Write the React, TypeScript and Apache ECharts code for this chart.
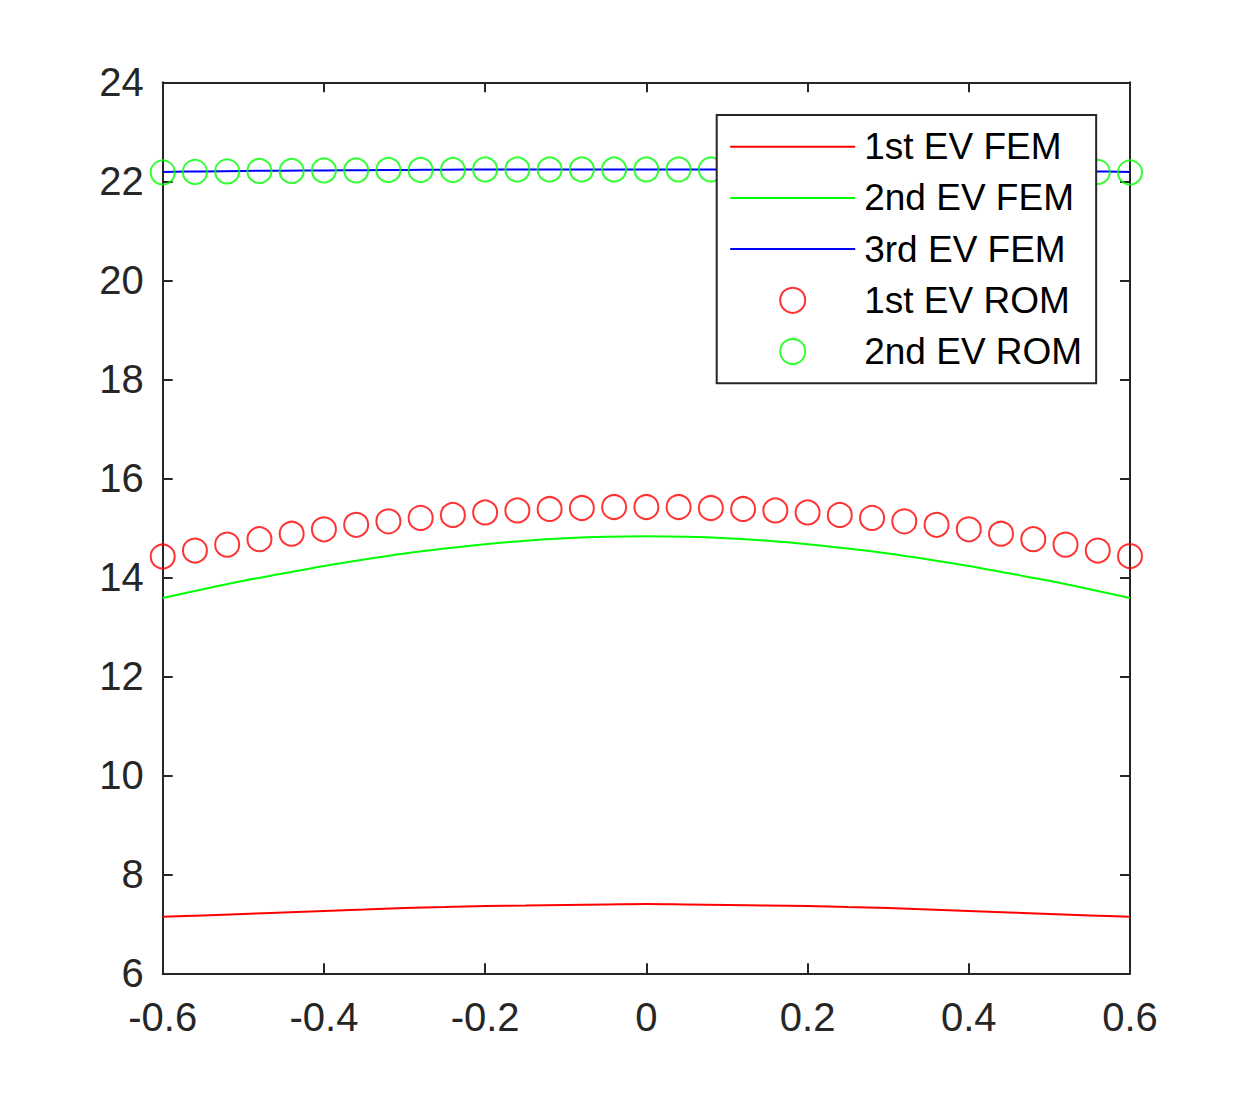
import React, { useEffect, useRef } from "react";
import * as echarts from "echarts";

const xFem = [
  -0.6, -0.55, -0.5, -0.45, -0.4, -0.35, -0.3, -0.25, -0.2, -0.15, -0.1, -0.05, 0,
  0.05, 0.1, 0.15, 0.2, 0.25, 0.3, 0.35, 0.4, 0.45, 0.5, 0.55, 0.6,
];
const ev1Fem = [
  7.14, 7.17, 7.2, 7.23, 7.26, 7.29, 7.32, 7.34, 7.36, 7.37, 7.38, 7.39, 7.4,
  7.39, 7.38, 7.37, 7.36, 7.34, 7.32, 7.29, 7.26, 7.23, 7.2, 7.17, 7.14,
];
const ev2Fem = [
  13.58, 13.76, 13.93, 14.08, 14.23, 14.36, 14.48, 14.58, 14.67, 14.74, 14.79, 14.82, 14.83,
  14.82, 14.79, 14.74, 14.67, 14.58, 14.48, 14.36, 14.23, 14.08, 13.93, 13.76, 13.58,
];
const ev3Fem = [
  22.19, 22.2, 22.21, 22.215, 22.22, 22.225, 22.23, 22.235, 22.24, 22.24, 22.24, 22.24, 22.24,
  22.24, 22.24, 22.24, 22.24, 22.235, 22.23, 22.225, 22.22, 22.215, 22.21, 22.2, 22.19,
];

const xRom = [
  -0.6, -0.56, -0.52, -0.48, -0.44, -0.4, -0.36, -0.32, -0.28, -0.24, -0.2, -0.16, -0.12, -0.08, -0.04,
  0, 0.04, 0.08, 0.12, 0.16, 0.2, 0.24, 0.28, 0.32, 0.36, 0.4, 0.44, 0.48, 0.52, 0.56, 0.6,
];
const ev1Rom = [
  14.42, 14.54, 14.66, 14.77, 14.88, 14.97, 15.06, 15.13, 15.2, 15.26, 15.31, 15.35, 15.38, 15.4, 15.42,
  15.42, 15.42, 15.4, 15.38, 15.35, 15.31, 15.26, 15.2, 15.13, 15.06, 14.97, 14.88, 14.77, 14.66, 14.54, 14.43,
];
const ev2Rom = [
  22.18, 22.19, 22.2, 22.21, 22.21, 22.22, 22.22, 22.23, 22.23, 22.23, 22.24, 22.24, 22.24, 22.24, 22.24,
  22.24, 22.24, 22.24, 22.24, 22.24, 22.24, 22.23, 22.23, 22.23, 22.22, 22.22, 22.21, 22.21, 22.2, 22.19, 22.18,
];

const seriesNames = ["1st EV FEM", "2nd EV FEM", "3rd EV FEM", "1st EV ROM", "2nd EV ROM"];

const FONT = "'Liberation Sans', Arial, Helvetica, sans-serif";
const AX = "#262626";

const pairs = (xs: number[], ys: number[]) => xs.map((x, i) => [x, ys[i]]);

export default function App() {
  const ref = useRef<HTMLDivElement>(null);
  useEffect(() => {
    if (!ref.current) return;
    const chart = echarts.init(ref.current, null, { renderer: "svg" });
    const fmt = (v: number) => String(parseFloat(v.toFixed(1)));
    const axisCommon = {
      axisLine: { show: true, onZero: false, lineStyle: { color: AX, width: 2 } },
      axisTick: { show: true, inside: true, length: 10, lineStyle: { color: AX, width: 2 } },
      splitLine: { show: false },
    };
    const lineSeries = (name: string, ys: number[], color: string) => ({
      name,
      type: "line",
      data: pairs(xFem, ys),
      smooth: 0.3,
      showSymbol: false,
      symbol: "circle",
      symbolSize: 0,
      lineStyle: { color, width: 2 },
      itemStyle: { color: "rgba(0,0,0,0)", borderWidth: 0, borderColor: "rgba(0,0,0,0)" },
      z: 2,
    });
    const scatterSeries = (name: string, ys: number[], color: string) => ({
      name,
      type: "scatter",
      data: pairs(xRom, ys),
      symbol: "circle",
      symbolSize: 24,
      clip: false,
      itemStyle: { color: "rgba(0,0,0,0)", borderColor: color, borderWidth: 2 },
      z: 3,
    });
    chart.setOption({
      animation: false,
      backgroundColor: "#ffffff",
      grid: { left: 162.7, right: 120, top: 82.3, bottom: 120.7, containLabel: false },
      xAxis: [
        {
          type: "value",
          min: -0.6,
          max: 0.6,
          interval: 0.2,
          position: "bottom",
          ...axisCommon,
          axisLabel: {
            show: true,
            margin: 24,
            color: AX,
            fontSize: 40,
            fontFamily: FONT,
            formatter: fmt,
          },
        },
        {
          type: "value",
          min: -0.6,
          max: 0.6,
          interval: 0.2,
          position: "top",
          ...axisCommon,
          axisLabel: { show: false },
        },
      ],
      yAxis: [
        {
          type: "value",
          min: 6,
          max: 24,
          interval: 2,
          position: "left",
          ...axisCommon,
          axisLabel: {
            show: true,
            margin: 19,
            color: AX,
            fontSize: 40,
            fontFamily: FONT,
          },
        },
        {
          type: "value",
          min: 6,
          max: 24,
          interval: 2,
          position: "right",
          ...axisCommon,
          axisLabel: { show: false },
        },
      ],
      legend: {
        show: true,
        orient: "vertical",
        left: 716.7,
        top: 115,
        data: seriesNames,
        itemWidth: 125,
        itemHeight: 25,
        itemGap: 14.2,
        padding: [13.2, 14, 13.2, 12.5],
        backgroundColor: "#ffffff",
        borderColor: AX,
        borderWidth: 2,
        borderRadius: 0,
        selectedMode: false,
        textStyle: {
          color: "#000000",
          fontSize: 37,
          fontFamily: FONT,
          padding: [0, 0, 0, 4],
        },
      },
      series: [
        lineSeries(seriesNames[0], ev1Fem, "#ff0000"),
        lineSeries(seriesNames[1], ev2Fem, "#00ff00"),
        lineSeries(seriesNames[2], ev3Fem, "#0000ff"),
        scatterSeries(seriesNames[3], ev1Rom, "#ff0000"),
        scatterSeries(seriesNames[4], ev2Rom, "#00ff00"),
      ],
    });
    return () => chart.dispose();
  }, []);
  return (
    <div
      ref={ref}
      style={{ position: "fixed", left: 0, top: 0, width: 1250, height: 1094, background: "#fff" }}
    />
  );
}
